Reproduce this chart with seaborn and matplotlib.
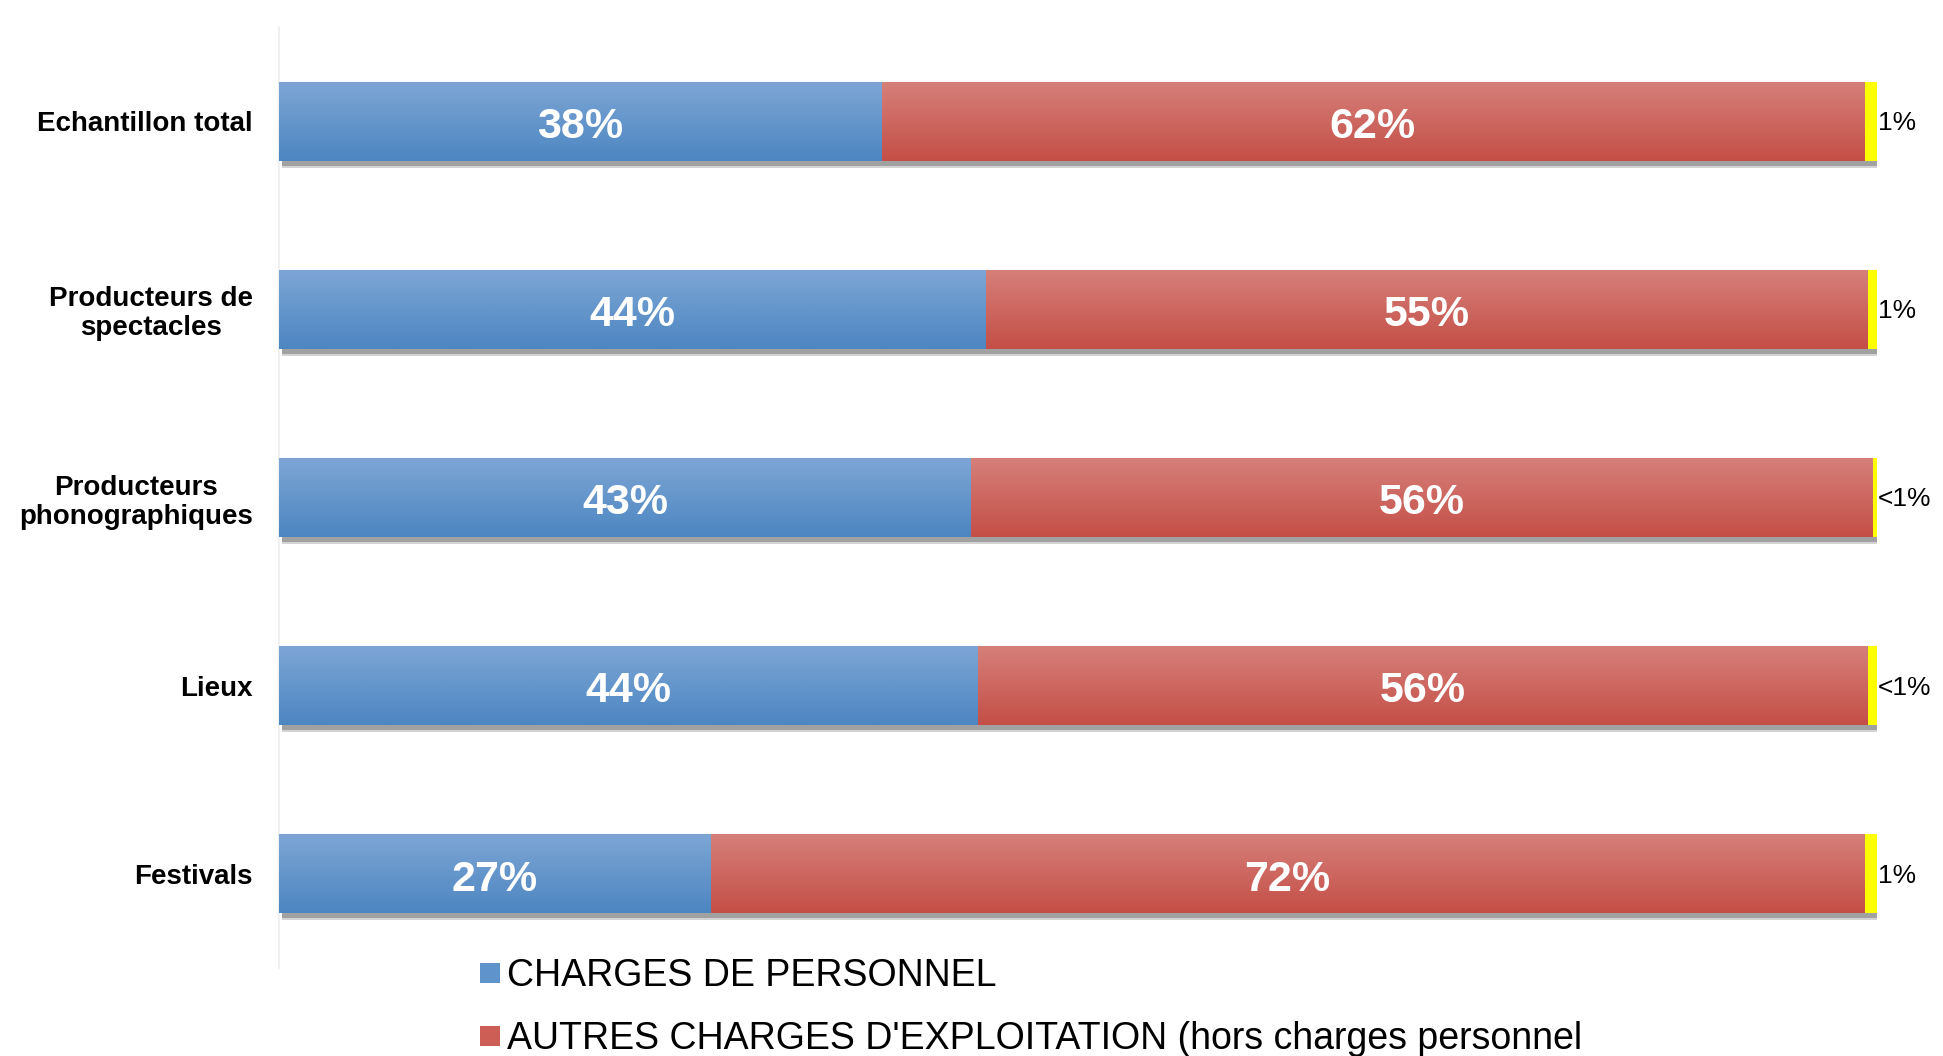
import numpy as np
import pandas as pd
import matplotlib
matplotlib.use("Agg")
import matplotlib.pyplot as plt
import seaborn as sns
from matplotlib import font_manager as fm
from matplotlib.colors import LinearSegmentedColormap
from matplotlib.lines import Line2D
import matplotlib.patheffects as pe

# ---------------- data ----------------
categories = ["Echantillon total", "Producteurs de\nspectacles", "Producteurs\nphonographiques", "Lieux", "Festivals"]
personnel = [37.7, 44.2, 43.3, 43.7, 27.0]
autres = [61.5, 55.2, 56.4, 55.7, 72.2]
reste = [0.8, 0.6, 0.4, 0.6, 0.8]
labels_personnel = ["38%", "44%", "43%", "44%", "27%"]
labels_autres = ["62%", "55%", "56%", "56%", "72%"]
labels_reste = ["1%", "1%", "<1%", "<1%", "1%"]
legend_labels = ["CHARGES DE PERSONNEL", "AUTRES CHARGES D'EXPLOITATION (hors charges personnel"]

# ---------------- style ----------------
sns.set_theme(style="white")
names = {f.name for f in fm.fontManager.ttflist}
narrow = "Liberation Sans Narrow" in names
fam = ["Liberation Sans Narrow", "Liberation Sans", "DejaVu Sans"] if narrow else ["Liberation Sans", "DejaVu Sans"]
plt.rcParams["font.family"] = fam
if narrow:
    fs_cat, fs_in, fs_out, fs_leg = 24, 35, 22, 30
else:
    fs_cat, fs_in, fs_out, fs_leg = 20, 31, 19, 27

blue_mid, red_mid, yellow = "#5f93cc", "#cd5e56", "#ffff00"
blue_grad = LinearSegmentedColormap.from_list("b", ["#7da6d6", "#4d86c1"])
red_grad = LinearSegmentedColormap.from_list("r", ["#d6807a", "#c44f47"])

df = pd.DataFrame({
    "cat": categories,
    "c1": personnel,
    "c2": np.array(personnel) + np.array(autres),
    "c3": np.array(personnel) + np.array(autres) + np.array(reste),
})

fig = plt.figure(figsize=(19.43, 10.56), dpi=100)
ax = fig.add_axes([0.1436, 0.0833, 0.8224, 0.8911])

layers = [("c3", yellow, None, 2), ("c2", red_mid, red_grad, 3), ("c1", blue_mid, blue_grad, 4)]
for col, color, grad, z in layers:
    n_before = len(ax.patches)
    sns.barplot(data=df, x=col, y="cat", orient="y", color=color, width=0.42,
                saturation=1, ax=ax, linewidth=0)
    new = ax.patches[n_before:]
    for p in new:
        p.set_zorder(z)
        if col == "c3":
            p.set_path_effects([pe.SimplePatchShadow(offset=(2, -5), shadow_rgbFace="#c8c8c8", alpha=0.8),
                                pe.SimplePatchShadow(offset=(2, -3.5), shadow_rgbFace="#8c8c8c", alpha=0.7),
                                pe.Normal()])
        if grad is not None:
            x0, y0, w, h = p.get_x(), p.get_y(), p.get_width(), p.get_height()
            g = np.linspace(0, 1, 64).reshape(-1, 1)
            im = ax.imshow(g, cmap=grad, extent=(x0, x0 + w, y0 + h, y0), origin="upper",
                           aspect="auto", zorder=z + 0.1, interpolation="bilinear")
            im.set_clip_path(p)

ax.set_xlim(0, 100)
ax.set_ylim(4.5, -0.5)
ax.set_xlabel("")
ax.set_ylabel("")
ax.set_xticks([])
for s in ["top", "right", "bottom"]:
    ax.spines[s].set_visible(False)
ax.spines["left"].set_color("#eeeeee")
ax.spines["left"].set_linewidth(1.2)
ax.tick_params(axis="y", length=0, pad=19)
ax.set_yticks(range(len(categories)))
ax.set_yticklabels(categories, fontsize=fs_cat, fontweight="bold", color="#000000", multialignment="center",
                   linespacing=1.15)

dy = 0.03
for i in range(len(categories)):
    ax.text(personnel[i] / 2, i + dy, labels_personnel[i], ha="center", va="center", color="white",
            fontsize=fs_in, fontweight="bold", zorder=10)
    ax.text(personnel[i] + autres[i] / 2, i + dy, labels_autres[i], ha="center", va="center", color="white",
            fontsize=fs_in, fontweight="bold", zorder=10)
    ax.text(100.05, i + 0.01, labels_reste[i], ha="left", va="center", color="#000000",
            fontsize=fs_out, zorder=10, clip_on=False)

handles = [Line2D([], [], marker="s", linestyle="none", markersize=14, markerfacecolor=blue_mid,
                  markeredgewidth=0),
           Line2D([], [], marker="s", linestyle="none", markersize=14, markerfacecolor=red_mid,
                  markeredgewidth=0)]
fig.legend(handles, legend_labels, loc="center left", bbox_to_anchor=(0.2475, 0.0455), frameon=False,
           fontsize=fs_leg, handlelength=0.5, handletextpad=0.2, labelspacing=0.72, borderpad=0,
           borderaxespad=0, labelcolor="#000000")

fig.savefig("out.png", dpi=100, facecolor="white")
